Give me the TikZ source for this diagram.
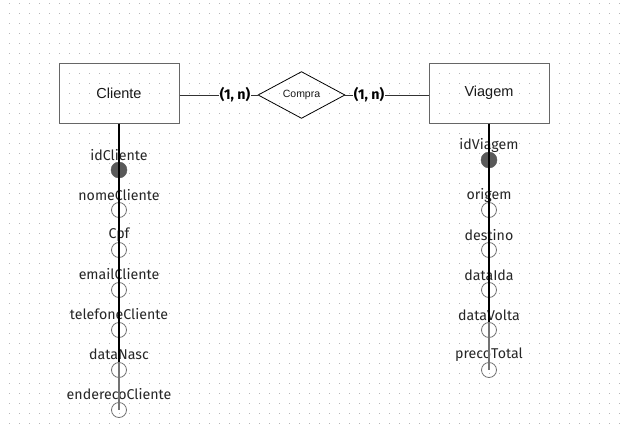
\documentclass[tikz,border=0pt]{standalone}
\usepackage{fontspec}
\setmainfont{Liberation Sans}
\newfontfamily\fira{Fira Sans}
\usetikzlibrary{shapes.geometric}
\begin{document}
\begin{tikzpicture}[x=1pt,y=-1pt,
  entity/.style={draw=black!60,line width=1pt,minimum width=120pt,minimum height=60pt,inner sep=0pt,font=\fontsize{14.5}{16}\selectfont,text=black!90},
  rel/.style={diamond,draw=black,line width=0.8pt,minimum width=87pt,minimum height=44pt,inner sep=0pt,font=\fontsize{10.5}{12}\selectfont,text=black!90},
  card/.style={inner sep=1pt,font=\fira\bfseries\fontsize{14.2}{16}\selectfont,text=black},
  attrlabel/.style={inner sep=0pt,font=\fira\fontsize{14.2}{16}\selectfont,text=black!85},
  pk/.style={circle,fill=black!65,draw=black!65,minimum size=16pt,inner sep=0pt},
  attr/.style={circle,draw=black!55,line width=0.8pt,minimum size=15pt,inner sep=0pt},
  link/.style={draw=black!80,line width=0.8pt},
  stem/.style={draw=black,line width=1.7pt},
  stemend/.style={draw=black!55,line width=1.2pt}
]
\useasboundingbox (0,0) rectangle (629,431);
\fill[white] (0,0) rectangle (629,431);
\foreach \gx in {9,19,...,619}{
  \foreach \gy in {3,13,...,423}{
    \fill[black!28] (\gx,\gy) rectangle +(1,1);
  }
}
% entities and relationship
\node[entity] (cli) at (119,93) {Cliente};
\node[entity] (via) at (489,93) {Viagem};
\node[rel] (com) at (301.5,95) {Compra};
\node[card] (l1) at (235,95) {(1, n)};
\node[card] (l2) at (369,95) {(1, n)};
\draw[link] (cli.east |- l1.west) -- (l1.west);
\draw[link] (l1.east) -- (com.west);
\draw[link] (com.east) -- (l2.west);
\draw[link] (l2.east) -- (via.west |- l2.east);
% Cliente attributes
\node[attrlabel] (ta1) at (119,155) {idCliente};
\node[attrlabel] (ta2) at (119,195) {nomeCliente};
\node[attrlabel] (ta3) at (119,235) {Cpf};
\node[attrlabel] (ta4) at (119,274) {emailCliente};
\node[attrlabel] (ta5) at (119,314) {telefoneCliente};
\node[attrlabel] (ta6) at (119,354) {dataNasc};
\node[attrlabel] (ta7) at (119,394) {enderecoCliente};
\node[pk] (ca1) at (119,170) {};
\node[attr] (ca2) at (119,210) {};
\node[attr] (ca3) at (119,250) {};
\node[attr] (ca4) at (119,290) {};
\node[attr] (ca5) at (119,330) {};
\node[attr] (ca6) at (119,370) {};
\node[attr] (ca7) at (119,410) {};
\draw[stemend] (ca6.north) -- (ca7.center);
\draw[stem] (cli.south) -- (ca6.north);
% Viagem attributes
\node[attrlabel] (tb1) at (489,145) {idViagem};
\node[attrlabel] (tb2) at (489,195) {origem};
\node[attrlabel] (tb3) at (489,235) {destino};
\node[attrlabel] (tb4) at (489,275) {dataIda};
\node[attrlabel] (tb5) at (489,315) {dataVolta};
\node[attrlabel] (tb6) at (489,355) {precoTotal};
\node[pk] (cb1) at (489,160) {};
\node[attr] (cb2) at (489,210) {};
\node[attr] (cb3) at (489,250) {};
\node[attr] (cb4) at (489,290) {};
\node[attr] (cb5) at (489,330) {};
\node[attr] (cb6) at (489,370) {};
\draw[stemend] (cb5.north) -- (cb6.center);
\draw[stem] (via.south) -- (cb5.north);
\end{tikzpicture}
\end{document}
